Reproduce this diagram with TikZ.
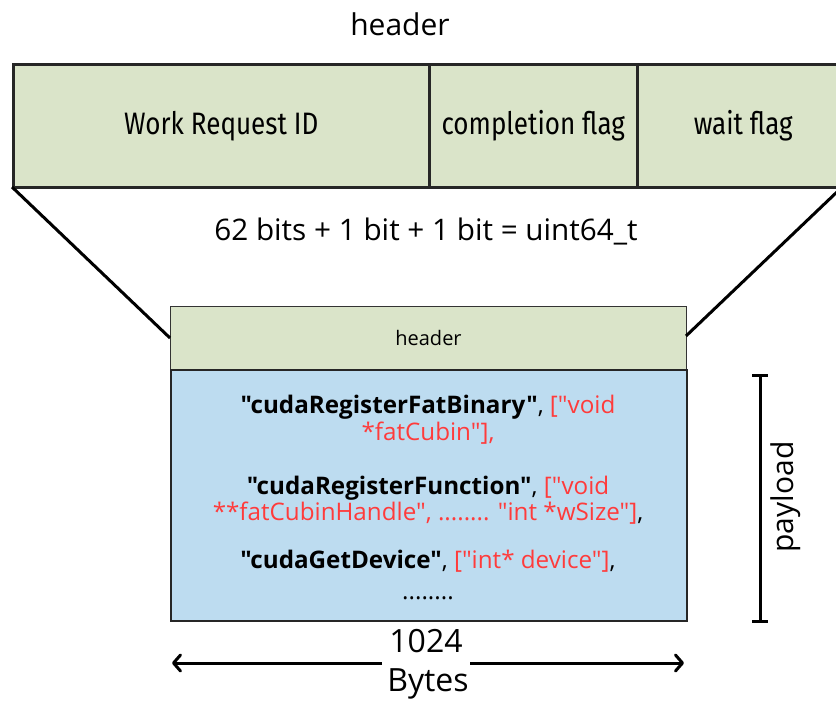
\documentclass[tikz,border=0pt]{standalone}
\usepackage{fontspec}
\setmainfont{Open Sans}
\newfontfamily\codefont[Ligatures=TeXOff]{Open Sans}
\newfontfamily\narrowfont[FakeStretch=0.84]{Fira Sans}
\usetikzlibrary{arrows.meta}
\definecolor{hdrgreen}{HTML}{DAE4C9}
\definecolor{payblue}{HTML}{BDDCF0}
\definecolor{argred}{HTML}{FF3B3B}
\tikzset{
  field/.style={draw=black!85, line width=2.5pt, fill=hdrgreen, minimum height=123pt,
    inner sep=0pt, anchor=north west, font=\narrowfont\fontsize{31}{36}\selectfont},
  plain/.style={inner sep=0pt, font=\fontsize{30}{36}\selectfont},
  codeline/.style={inner sep=0pt, anchor=base, font=\codefont\fontsize{24.2}{28}\selectfont},
  thick line/.style={line width=3pt, black},
  size tip/.style={-{Straight Barb[length=7pt, width=16pt, line cap=round, line join=round]}},
}
\newcommand{\argtext}[1]{\textcolor{argred}{#1}}
\begin{document}
\begin{tikzpicture}[x=1pt, y=-1pt]
  \useasboundingbox (0,0) rectangle (836,702);

  % title above the header fields
  \node[plain] (title) at (400,24) {header};

  % header fields
  \node[field, minimum width=416pt] (wrid) at (12,63) {Work Request ID};
  \node[field, minimum width=208pt] (cflag) at (428,63) {completion flag};
  \node[field, minimum width=212pt] (wflag) at (636,63) {wait flag};

  % total width of the header
  \node[plain, font=\fontsize{29.7}{34}\selectfont] (bits) at (426,231) {62 bits + 1 bit + 1 bit = uint64\_t};

  % message block: header and payload
  \node[draw=black!80, line width=1pt, fill=hdrgreen, minimum width=516pt, minimum height=63pt,
    anchor=north west, inner sep=0pt, font=\fontsize{20}{24}\selectfont] (mhdr) at (170,306) {header};
  \node[draw=black!85, line width=2pt, fill=payblue, minimum width=516pt, minimum height=251pt,
    anchor=north west, inner sep=0pt] (pay) at (170,369) {};

  % expansion lines from the header fields to the message header
  \coordinate (lt) at (12,187);
  \coordinate (lb) at (170,338);
  \coordinate (rt) at (838,191);
  \coordinate (rb) at (686,336);
  \draw[thick line] (lt) -- (lb);
  \draw[thick line] (rt) -- (rb);

  % payload contents
  \node[codeline] (c1a) at (428,413) {\textbf{"cudaRegisterFatBinary"}, \argtext{["void}};
  \node[codeline] (c1b) at (428,440) {\argtext{*fatCubin"],}};
  \node[codeline] (c2a) at (428,494) {\textbf{"cudaRegisterFunction"}, \argtext{["void}};
  \node[codeline] (c2b) at (428,520) {\argtext{**fatCubinHandle", ........ "int *wSize"]},};
  \node[codeline] (c3) at (428,568) {\textbf{"cudaGetDevice"}, \argtext{["int* device"]},};
  \node[codeline] (c4) at (428,599) {........};

  % payload extent bracket
  \coordinate (pt) at (760,375);
  \coordinate (pb) at (760,621);
  \draw[thick line] (pt) -- (pb);
  \draw[thick line] ([xshift=-8pt]pt) -- ([xshift=8pt]pt);
  \draw[thick line] ([xshift=-8pt]pb) -- ([xshift=8pt]pb);
  \node[plain, rotate=90] (plabel) at (786,497) {payload};

  % size arrow
  \node[plain, font=\fontsize{32}{38}\selectfont] (n1024) at (426,641) {1024};
  \node[plain, font=\fontsize{32}{38}\selectfont] (bytes) at (428,684) {Bytes};
  \coordinate (al) at (172,663);
  \coordinate (ar) at (684,663);
  \coordinate (gl) at (382,663);
  \coordinate (gr) at (470,663);
  \draw[thick line, size tip] (gl) -- (al);
  \draw[thick line, size tip] (gr) -- (ar);
\end{tikzpicture}
\end{document}
